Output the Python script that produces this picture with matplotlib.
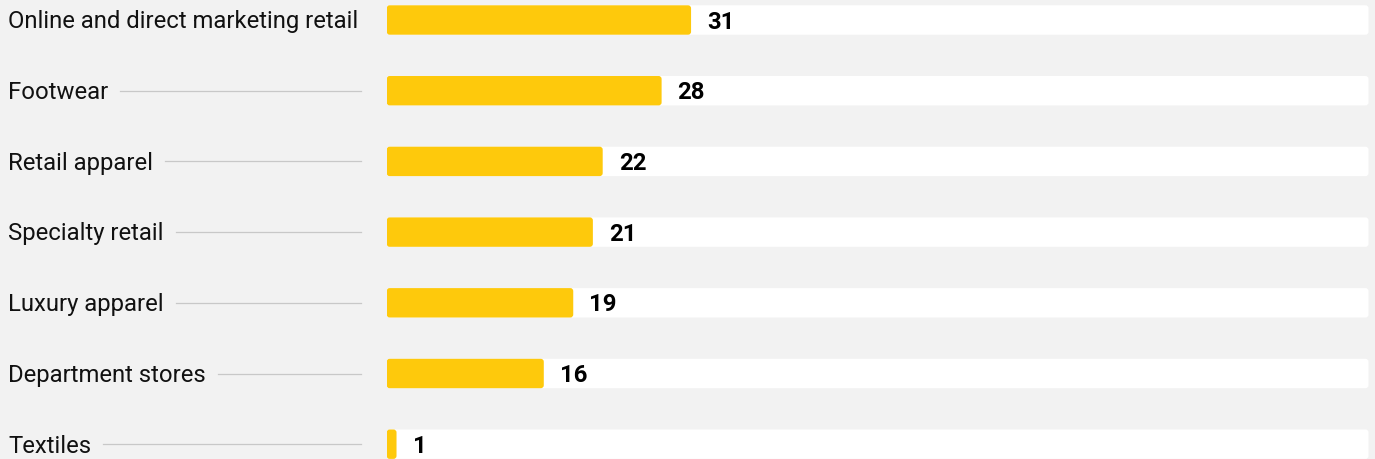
import matplotlib
matplotlib.use("Agg")
import matplotlib.pyplot as plt
from matplotlib.patches import FancyBboxPatch
from matplotlib.transforms import blended_transform_factory, offset_copy

categories = [
    "Online and direct marketing retail",
    "Footwear",
    "Retail apparel",
    "Specialty retail",
    "Luxury apparel",
    "Department stores",
    "Textiles",
]
values = [31, 28, 22, 21, 19, 16, 1]
max_value = 100

BG = "#f2f2f2"
BAR = "#fec90c"
LINE = "#c8c8c8"

plt.rcParams["font.family"] = ["Roboto", "DejaVu Sans"]

W, H = 1375, 459
fig = plt.figure(figsize=(W / 100, H / 100), dpi=100)
fig.patch.set_facecolor(BG)

pitch = 70.7       # px per row
first_c = 20.0     # px from top to centre of first row
left_px, right_px = 386.7, 1368.5
ax = fig.add_axes([left_px / W, 0, (right_px - left_px) / W, 1])
ax.set_facecolor("none")
ax.set_xlim(0, max_value)
ax.set_ylim((H - first_c) / pitch, -first_c / pitch)
ax.axis("off")

bar_h = 29.4 / pitch
px_x = max_value / (right_px - left_px)
px_y = 1 / pitch
aspect = px_y / px_x
rs = 3 * px_x

rows = list(range(len(categories)))

def rounded(x0, y0, w, h, color):
    p = FancyBboxPatch((x0, y0), w, h,
                       boxstyle=f"round,pad=0,rounding_size={rs}",
                       mutation_aspect=aspect, fc=color, ec="none", lw=0)
    ax.add_patch(p)

for i, v in zip(rows, values):
    rounded(0, i - bar_h / 2, max_value, bar_h, "white")
    rounded(0, i - bar_h / 2, v, bar_h, BAR)

# value labels
val_tr = offset_copy(ax.transData, fig=fig, x=16, y=-8.6, units="dots")
for i, v in zip(rows, values):
    ax.text(v, i, str(v), transform=val_tr, fontsize=17.2, fontweight="bold",
            color="black", ha="left", va="baseline")

# category labels with leader lines
lab_tr = offset_copy(blended_transform_factory(fig.transFigure, ax.transData),
                     fig=fig, x=0, y=-8.3, units="dots")
texts = []
for i, c in zip(rows, categories):
    t = fig.text(8 / W, i, c, transform=lab_tr, fontsize=17.2, color="#111111",
                 ha="left", va="baseline")
    texts.append(t)

fig.canvas.draw()
renderer = fig.canvas.get_renderer()
line_end = 361
for i, t in zip(rows, texts):
    bb = t.get_window_extent(renderer)
    start = bb.x1 + 12
    if start < line_end - 5:
        y_disp = ax.transData.transform((0, i))[1]
        fig.add_artist(plt.Line2D([start / W, line_end / W],
                                  [y_disp / H, y_disp / H],
                                  transform=fig.transFigure,
                                  color=LINE, lw=0.9))

fig.savefig("out.png", dpi=100, facecolor=BG)
